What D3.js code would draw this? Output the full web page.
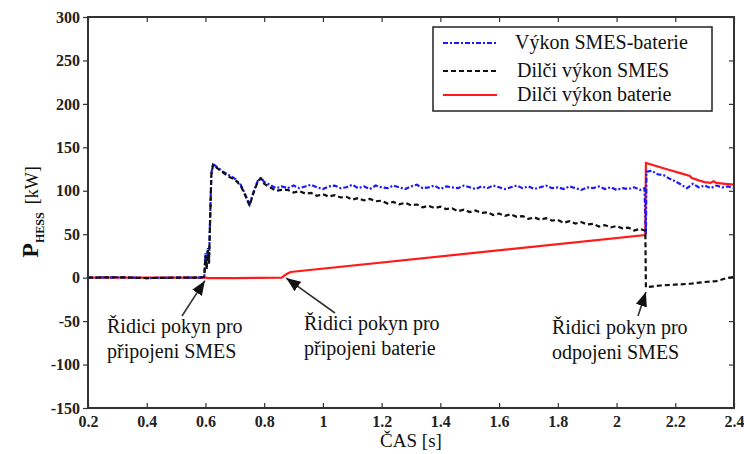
<!DOCTYPE html>
<html><head><meta charset="utf-8">
<script src="https://cdn.jsdelivr.net/npm/d3@7"></script>
<style>body{margin:0;background:#fff}svg{display:block}</style>
</head><body>
<svg id="c" width="744" height="454"></svg>
<script>
const xTicks = [0.2,0.4,0.6,0.8,1,1.2,1.4,1.6,1.8,2,2.2,2.4];
const yTicks = [-150,-100,-50,0,50,100,150,200,250,300];
const legendLabels = ["Výkon SMES-baterie","Dilči výkon SMES","Dilči výkon baterie"];

// Výkon SMES-baterie [t, kW]
const vykonSMESBaterie = [[0.2,0],[0.3,0.5],[0.4,-0.5],[0.5,0],[0.58,0],[0.596,1],[0.6,28],[0.604,12],[0.608,34],[0.612,18],[0.616,70],[0.62,120],[0.626,131],[0.64,127],[0.66,122],[0.68,118],[0.7,114],[0.72,107],[0.735,96],[0.75,84],[0.765,100],[0.78,113],[0.79,115],[0.8,110],[0.82,107],[0.84,103],[0.86,105],
[0.88,103],[0.9,106],[0.92,103],[0.94,105],[0.96,107],[0.98,104],[1.0,102],[1.02,105],[1.04,106],[1.06,103],[1.08,104],[1.1,107],[1.12,103],[1.14,105],[1.16,102],[1.18,106],[1.2,104],[1.22,103],[1.24,106],[1.26,104],[1.28,102],[1.3,105],[1.32,107],[1.34,103],[1.36,104],[1.38,106],[1.4,102],[1.42,105],[1.44,104],[1.46,103],[1.48,106],[1.5,104],[1.52,102],[1.54,105],[1.56,103],[1.58,106],[1.6,104],[1.62,102],[1.64,104],[1.66,106],[1.68,103],[1.7,105],[1.72,102],[1.74,104],[1.76,106],[1.78,103],[1.8,104],[1.82,102],[1.84,105],[1.86,103],[1.88,101],[1.9,104],[1.92,103],[1.94,105],[1.96,102],[1.98,104],[2.0,101],[2.02,103],[2.04,102],[2.06,104],[2.08,101],[2.095,103],[2.1,50],[2.102,122],[2.12,123],[2.14,119],[2.16,118],[2.18,114],[2.2,111],[2.22,107],[2.24,103],[2.26,108],[2.28,104],[2.3,106],[2.32,103],[2.34,106],[2.36,104],[2.38,105],[2.4,103]];

// Dilči výkon SMES [t, kW]
const dilciSMES = [[0.2,0],[0.3,0.5],[0.4,-0.5],[0.5,0],[0.58,0],[0.596,1],[0.6,26],[0.604,10],[0.608,32],[0.612,16],[0.616,68],[0.62,118],[0.626,130],[0.64,126],[0.66,121],[0.68,116],[0.7,113],[0.72,106],[0.735,95],[0.75,83],[0.765,99],[0.78,112],[0.79,114],[0.8,108],[0.82,104],[0.84,100],[0.86,101],
[0.88,101],[0.9,98],[0.92,99.5],[0.94,96.8],[0.96,97.5],[0.98,94.3],[1.0,96],[1.02,93.3],[1.04,95],[1.06,92.3],[1.08,93],[1.1,89.8],[1.12,91.6],[1.14,88.9],[1.16,90.6],[1.18,87.9],[1.2,88.6],[1.22,85.4],[1.24,87.2],[1.26,84.4],[1.28,86.2],[1.3,83.4],[1.32,84.2],[1.34,81],[1.36,82.7],[1.38,80],[1.4,81.7],[1.42,79],[1.44,79.8],[1.46,76.5],[1.48,78.3],[1.5,75.5],[1.52,77.3],[1.54,74.6],[1.56,75.3],[1.58,72.1],[1.6,73.8],[1.62,71.1],[1.64,72.9],[1.66,70.1],[1.68,70.9],[1.7,67.6],[1.72,69.4],[1.74,66.7],[1.76,68.4],[1.78,65.7],[1.8,66.4],[1.82,63.2],[1.84,65],[1.86,62.2],[1.88,64],[1.9,61.2],[1.92,62],[1.94,58.8],[1.96,60.5],[1.98,57.8],[2.0,59.5],[2.02,56.8],[2.04,57.6],[2.06,54.3],[2.08,56.1],[2.098,54],[2.1,-11],[2.15,-9],[2.2,-8],[2.25,-7],[2.3,-5],[2.34,-4],[2.37,-1],[2.4,1]];

// Dilči výkon baterie [t, kW]
const dilciBaterie = [[0.2,0],[0.4,0],[0.6,0],[0.61,-0.5],[0.7,-0.5],[0.86,0],[0.875,4],[0.89,6.5],[2.098,49],[2.1,132],[2.16,126],[2.22,120],[2.25,117],[2.255,115],[2.28,112],[2.3,110],[2.32,109],[2.33,111],[2.34,109],[2.37,108],[2.4,107]];

const annotations = [
  {lines:["Řidici pokyn pro","připojeni SMES"], tx:107, ty:333, from:[182,316], to:[0.598,0]},
  {lines:["Řidici pokyn pro","připojeni baterie"], tx:304, ty:330, from:[335,313], to:[0.875,3]},
  {lines:["Řidici pokyn pro","odpojeni SMES"], tx:552, ty:334, from:[638,316], to:[2.1,-13]}
];

const FONT = '"Liberation Serif","Tinos","DejaVu Serif","Noto Serif","Times New Roman",Times,serif';
const svg = d3.select("#c").style("font-family", FONT);
const m = {l:88, r:734, t:17, b:408};
const x = d3.scaleLinear().domain([0.2,2.4]).range([m.l,m.r]);
const y = d3.scaleLinear().domain([-150,300]).range([m.b,m.t]);

svg.append("rect").attr("width",744).attr("height",454).attr("fill","#fff");

// axes
const gx = svg.append("g").attr("transform",`translate(0,${m.b})`)
  .call(d3.axisBottom(x).tickValues(xTicks).tickFormat(d=>String(d)).tickSizeInner(-5).tickSizeOuter(0).tickPadding(8));
const gxt = svg.append("g").attr("transform",`translate(0,${m.t})`)
  .call(d3.axisTop(x).tickValues(xTicks).tickFormat("").tickSizeInner(-5).tickSizeOuter(0));
const gy = svg.append("g").attr("transform",`translate(${m.l},0)`)
  .call(d3.axisLeft(y).tickValues(yTicks).tickFormat(d=>String(d)).tickSizeInner(5).tickSizeOuter(0).tickPadding(3));
const gyr = svg.append("g").attr("transform",`translate(${m.r},0)`)
  .call(d3.axisRight(y).tickValues(yTicks).tickFormat("").tickSizeInner(-5).tickSizeOuter(0));
[gx,gxt,gy,gyr].forEach(g=>{
  g.attr("font-family", FONT);
  g.select(".domain").remove();
  g.selectAll("line").attr("stroke","#333").attr("stroke-width",1.2);
  g.selectAll("text").attr("fill","#222").attr("font-size",16).attr("font-weight","bold");
});

// lines
const line = d3.line().x(d=>x(d[0])).y(d=>y(d[1]));
svg.append("clipPath").attr("id","cp").append("rect")
  .attr("x",m.l).attr("y",m.t).attr("width",m.r-m.l).attr("height",m.b-m.t);
const plot = svg.append("g").attr("clip-path","url(#cp)");
plot.append("path").datum(dilciBaterie).attr("d",line).attr("fill","none")
  .attr("stroke","#ff1a1a").attr("stroke-width",2.2);
plot.append("path").datum(vykonSMESBaterie).attr("d",line).attr("fill","none")
  .attr("stroke","#1a1aff").attr("stroke-width",2.2).attr("stroke-dasharray","5,2,2,2");
plot.append("path").datum(dilciSMES).attr("d",line).attr("fill","none")
  .attr("stroke","#111").attr("stroke-width",2.2).attr("stroke-dasharray","5,3");

// frame
svg.append("rect").attr("x",m.l).attr("y",m.t).attr("width",m.r-m.l).attr("height",m.b-m.t)
  .attr("fill","none").attr("stroke","#333").attr("stroke-width",2);

// legend
const lg = svg.append("g");
lg.append("rect").attr("x",433).attr("y",27).attr("width",279).attr("height",84)
  .attr("fill","#fff").attr("stroke","#222").attr("stroke-width",1.5);
const lstyles = [
  {c:"#1a1aff",d:"5,2,2,2",w:2},
  {c:"#111",d:"5,3",w:2},
  {c:"#ff1a1a",d:null,w:2.2}
];
const ly = [43,71,95];
legendLabels.forEach((t,i)=>{
  lg.append("line").attr("x1",443).attr("x2",497).attr("y1",ly[i]).attr("y2",ly[i])
    .attr("stroke",lstyles[i].c).attr("stroke-width",lstyles[i].w)
    .attr("stroke-dasharray",lstyles[i].d);
  lg.append("text").attr("x",i==0?515:517).attr("y",ly[i]+6).text(t)
    .attr("font-size",20).attr("fill","#111");
});

// annotations
const defs = svg.append("defs");
defs.append("marker").attr("id","ah").attr("viewBox","0 0 10 10").attr("refX",10).attr("refY",5)
  .attr("markerWidth",9).attr("markerHeight",9).attr("orient","auto-start-reverse")
  .append("path").attr("d","M0,1 L10,5 L0,9 z").attr("fill","#111");
annotations.forEach(a=>{
  svg.append("line").attr("x1",a.from[0]).attr("y1",a.from[1])
    .attr("x2",x(a.to[0])).attr("y2",y(a.to[1])+3)
    .attr("stroke","#333").attr("stroke-width",1.6).attr("marker-end","url(#ah)");
  a.lines.forEach((l,i)=>{
    svg.append("text").attr("x",a.tx).attr("y",a.ty+i*25).text(l)
      .attr("font-size",20).attr("fill","#111");
  });
});

// axis titles
svg.append("text").attr("x",411).attr("y",447).attr("text-anchor","middle")
  .attr("font-size",19).attr("fill","#111").text("ČAS [s]");
const yl = svg.append("text").attr("transform","translate(38,212) rotate(-90)")
  .attr("text-anchor","middle").attr("fill","#111");
yl.append("tspan").text("P").attr("font-size",24).attr("font-weight","bold");
yl.append("tspan").text("HESS").attr("dy",6).attr("font-size",12).attr("font-weight","bold");
yl.append("tspan").text("[kW]").attr("dx",8).attr("dy",-6).attr("font-size",18);
</script>
</body></html>
